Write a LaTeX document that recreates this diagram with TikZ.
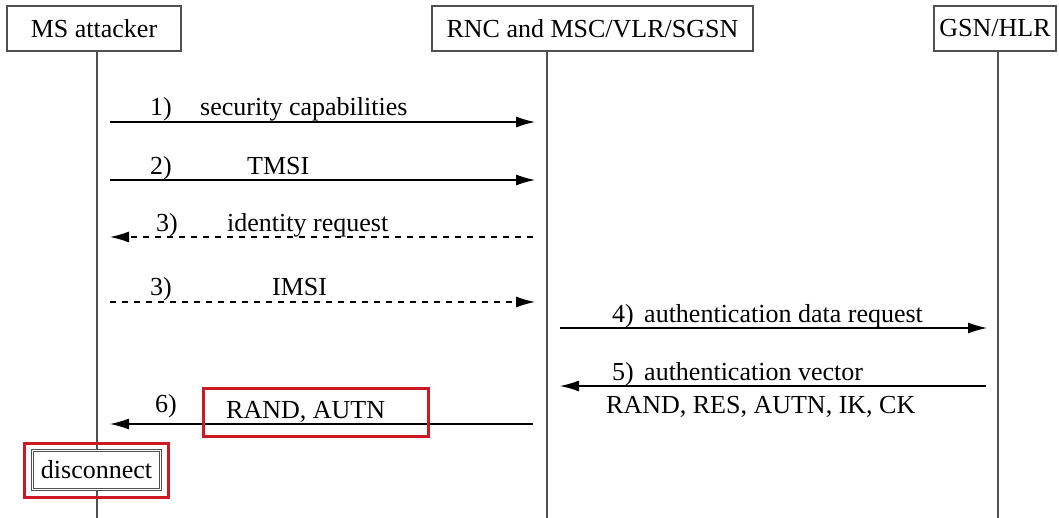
\documentclass[tikz,border=0pt]{standalone}
\usepackage{fontspec}
\setmainfont{Liberation Serif}
\usetikzlibrary{arrows.meta}
\definecolor{boxgray}{RGB}{80,80,80}
\definecolor{markred}{RGB}{205,25,35}
\begin{document}
\begin{tikzpicture}[x=1pt,y=-1pt,
  font=\fontsize{26}{30}\selectfont,
  actor/.style={draw=boxgray,line width=1.3pt,fill=white,minimum height=45pt,inner sep=0pt},
  life/.style={draw=boxgray,line width=1.3pt},
  msg/.style={line width=1.2pt,-{Latex[length=19pt,width=11pt]}},
  dmsg/.style={msg,dash pattern=on 6pt off 6pt},
  lbl/.style={anchor=base west,inner sep=0pt},
  hilite/.style={draw=markred,line width=3pt}]
\useasboundingbox (0,0) rectangle (1059,518);

% participants
\node[actor,minimum width=174pt] (ms)  at (94,28.5)  {MS attacker};
\node[actor,minimum width=321pt] (rnc) at (592.5,28.5) {RNC and MSC/VLR/SGSN};
\node[actor,minimum width=122pt] (hlr) at (995,28.5) {GSN/HLR};

% lifelines
\coordinate (msT) at (97,51);   \coordinate (msB) at (97,518);
\coordinate (rnT) at (547,51);  \coordinate (rnB) at (547,518);
\coordinate (hlT) at (998,51);  \coordinate (hlB) at (998,518);
\draw[life] (msT) -- (msB);
\draw[life] (rnT) -- (rnB);
\draw[life] (hlT) -- (hlB);

% message end points
\coordinate (a1) at (110,122); \coordinate (b1) at (535,122);
\coordinate (a2) at (110,180); \coordinate (b2) at (535,180);
\coordinate (a3) at (110,237); \coordinate (b3) at (533,237);
\coordinate (a4) at (110,302); \coordinate (b4) at (535,302);
\coordinate (a5) at (560,328); \coordinate (b5) at (987,328);
\coordinate (a6) at (560,386); \coordinate (b6) at (986,386);
\coordinate (a7) at (110,424); \coordinate (b7) at (533,424);

% messages
\draw[msg]  (a1) -- (b1);
\node[lbl] (n1) at (150,116) {1)};
\node[lbl] (t1) at (200,116) {security capabilities};

\draw[msg]  (a2) -- (b2);
\node[lbl] (n2) at (150,175) {2)};
\node[lbl] (t2) at (247,175) {TMSI};

\draw[dmsg] (b3) -- (a3);
\node[lbl] (n3) at (156,232) {3)};
\node[lbl] (t3) at (227,232) {identity request};

\draw[dmsg] (a4) -- (b4);
\node[lbl] (n4) at (150,296) {3)};
\node[lbl] (t4) at (272,296) {IMSI};

\draw[msg]  (a5) -- (b5);
\node[lbl] (n5) at (612,322) {4)};
\node[lbl] (t5) at (644,322) {authentication data request};

\draw[msg]  (b6) -- (a6);
\node[lbl] (n6) at (612,380) {5)};
\node[lbl] (t6) at (644,380) {authentication vector};
\node[lbl] (t6b) at (606,413) {RAND, RES, AUTN, IK, CK};

\draw[msg]  (b7) -- (a7);
\node[lbl] (n7) at (155,412) {6)};
\node[lbl] (t7) at (226,418) {RAND, AUTN};
\node[hilite,minimum width=225pt,minimum height=48pt,inner sep=0pt] (r7) at (315.5,412) {};

% disconnect marker
\node[draw=boxgray,double=white,double distance=1.8pt,line width=1pt,fill=white,
      minimum width=128pt,minimum height=39pt,inner sep=0pt] (disc) at (96.5,470) {disconnect};
\node[hilite,minimum width=144pt,minimum height=54pt,inner sep=0pt] (rdisc) at (96,470) {};
\end{tikzpicture}
\end{document}
